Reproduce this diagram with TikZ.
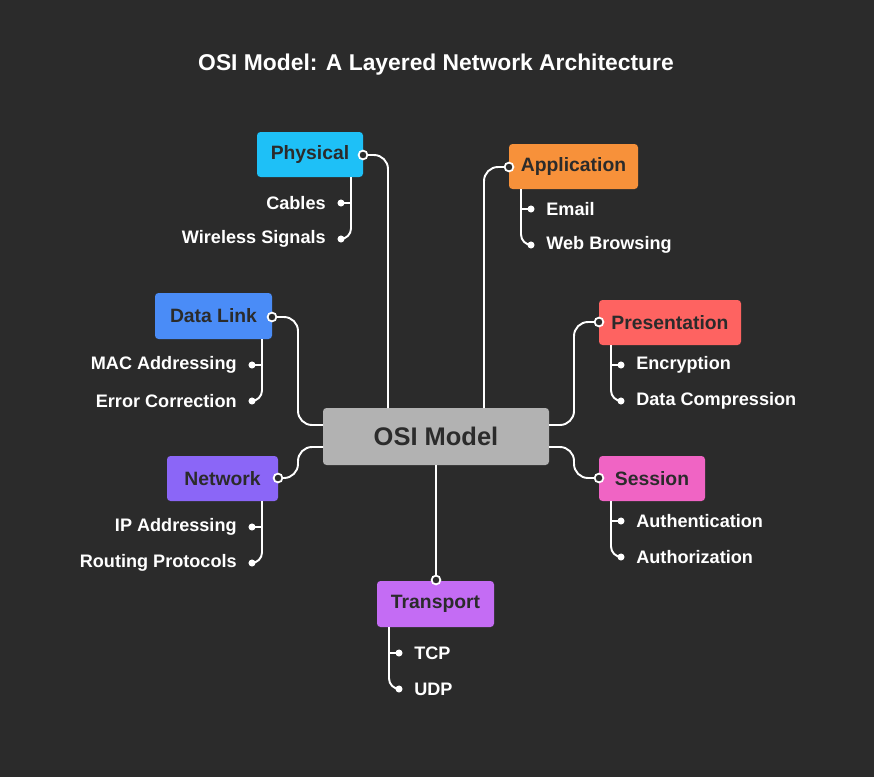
\documentclass[tikz,border=0pt]{standalone}
\usepackage{fontspec}
\setmainfont{Liberation Sans}
\usetikzlibrary{positioning}
\definecolor{bg}{HTML}{2B2B2B}
\definecolor{ink}{HTML}{2B2B2B}
\definecolor{cPhys}{HTML}{1EC0F7}
\definecolor{cLink}{HTML}{4A8CF7}
\definecolor{cNet}{HTML}{8B66F7}
\definecolor{cTrans}{HTML}{C46CF4}
\definecolor{cSess}{HTML}{F064C4}
\definecolor{cPres}{HTML}{FE6361}
\definecolor{cApp}{HTML}{F7913A}
\tikzset{
  layer/.style={inner sep=0pt, text=ink, font=\fontsize{11}{13}\selectfont\bfseries},
  item/.style={text=white, font=\fontsize{10.3}{12}\selectfont\bfseries, inner sep=0pt},
  link/.style={white, line width=1.1pt, rounded corners=8pt},
  dot/.style={circle, fill=white, inner sep=0pt, minimum size=4pt},
  hole/.style={circle, draw=white, fill=bg, line width=1pt, inner sep=0pt, minimum size=5pt}
}
\begin{document}
\begin{tikzpicture}[x=0.02cm, y=-0.02cm]
    \fill[bg] (0,0) rectangle (874,777);
    \node[text=white, font=\fontsize{13}{15}\selectfont\bfseries] (title) at (436,65) {OSI Model: A Layered Network Architecture};
    % centre
    \fill[gray!60, rounded corners=2pt] (323,408) rectangle (549,465);
    \node[text=ink, font=\fontsize{14.5}{17}\selectfont\bfseries] (osi) at (436,436.5) {OSI Model};
    % layers
    \fill[cPhys, rounded corners=2pt] (257,132) rectangle (363,177);
    \node[layer] (phys) at (310,154.5) {Physical};
    \fill[cApp, rounded corners=2pt] (509,144) rectangle (638,189);
    \node[layer] (app) at (573.5,166.5) {Application};
    \fill[cLink, rounded corners=2pt] (155,293) rectangle (272,339);
    \node[layer] (link) at (213.5,316) {Data Link};
    \fill[cPres, rounded corners=2pt] (599,300) rectangle (741,345);
    \node[layer] (pres) at (670,322.5) {Presentation};
    \fill[cNet, rounded corners=2pt] (167,456) rectangle (278,501);
    \node[layer] (net) at (222.5,478.5) {Network};
    \fill[cSess, rounded corners=2pt] (599,456) rectangle (705,501);
    \node[layer] (sess) at (652,478.5) {Session};
    \fill[cTrans, rounded corners=2pt] (377,581) rectangle (494,627);
    \node[layer] (trans) at (435.5,604) {Transport};
    % main connectors
    \draw[link] (388,408) |- (363,155);
    \draw[link] (484,408) |- (509,167);
    \draw[link] (323,425) -| (298,317) -- (272,317);
    \draw[link] (323,447) -| (298,478) -- (278,478);
    \draw[link] (549,425) -| (574,322) -- (599,322);
    \draw[link] (549,447) -| (574,478) -- (599,478);
    \draw[link] (436,465) -- (436,581);
    \foreach \p in {(363,155),(509,167),(272,317),(278,478),(599,322),(599,478),(436,580)}
      \node[hole] at \p {};
    % items, left side
    \foreach \vx/\top/\ya/\ta/\yb/\tb in {351/177/203/Cables/239/Wireless Signals,
        262/339/365/MAC Addressing/401/Error Correction,
        262/501/527/IP Addressing/563/Routing Protocols} {
      \draw[link] (\vx,\ya) -- (\vx-10,\ya);
      \draw[link, rounded corners=6pt] (\vx,\top) |- (\vx-10,\yb);
      \node[dot] at (\vx-10,\ya) {};
      \node[dot] at (\vx-10,\yb) {};
      \node[item, anchor=east] at (\vx-25,\ya) {\ta};
      \node[item, anchor=east] at (\vx-25,\yb) {\tb};
    }
    % items, right side
    \foreach \vx/\top/\ya/\ta/\yb/\tb in {521/189/209/Email/245/Web Browsing,
        611/345/365/Encryption/401/Data Compression,
        611/501/521/Authentication/557/Authorization,
        389/627/653/TCP/689/UDP} {
      \draw[link] (\vx,\ya) -- (\vx+10,\ya);
      \draw[link, rounded corners=6pt] (\vx,\top) |- (\vx+10,\yb);
      \node[dot] at (\vx+10,\ya) {};
      \node[dot] at (\vx+10,\yb) {};
      \node[item, anchor=west] at (\vx+25,\ya) {\ta};
      \node[item, anchor=west] at (\vx+25,\yb) {\tb};
    }
\end{tikzpicture}
\end{document}
